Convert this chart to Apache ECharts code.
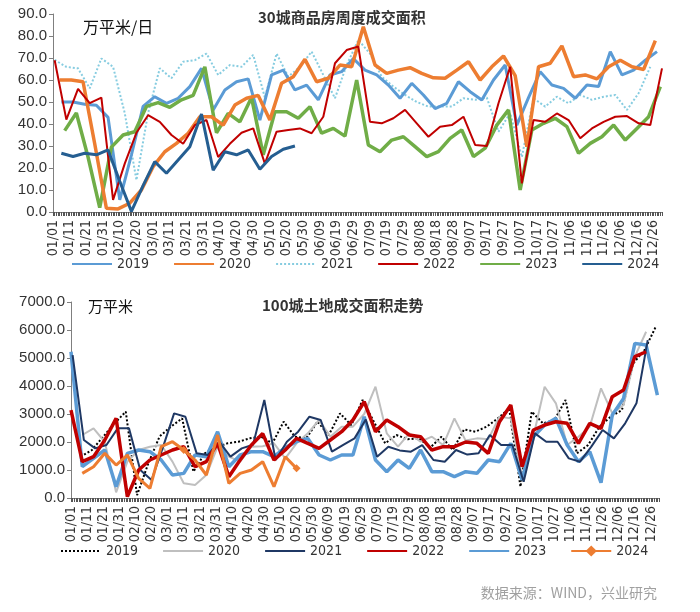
<!DOCTYPE html>
<html><head><meta charset="utf-8">
<script src="https://cdn.jsdelivr.net/npm/echarts@6/dist/echarts.min.js"></script>
<style>html,body{margin:0;padding:0;background:#fff}#c{width:700px;height:612px}</style>
</head><body><div id="c"></div>
<script>
// ---- x axis: days of a (leap) year ----
const monthLengths = [31,29,31,30,31,30,31,31,30,31,30,31];
const days = [];
monthLengths.forEach((n, m) => { for (let d = 1; d <= n; d++) days.push(String(m + 1).padStart(2, '0') + '/' + String(d).padStart(2, '0')); });
const years = ['2019', '2020', '2021', '2022', '2023', '2024'];

// ---- top: 30 cities weekly commercial housing sales (万平米/日) ----
// first day index of each year's weekly series
const saleStart = { '2019': 5, '2020': 4, '2021': 1, '2022': 1, '2023': 7, '2024': 5 };
const sale2019 = [50,50,49,48.5,43,5.5,26,48,52.4,49.4,51.7,57,65.3,46.4,55.5,59.2,60.5,41.8,62.3,64.5,55.5,57.7,51,62.3,63.8,69.8,64.5,62.3,57.7,51.7,58.5,53.2,47,49.4,59.2,54.7,50.9,60,66.8,39.5,52,63.8,57.7,56.2,51.7,57.7,57,72.9,62.3,64.5,69,72.9];
const sale2020 = [60,60,59.2,31,1.7,1.4,4,10,20.6,27.4,31.2,35.8,43.3,43.3,39.5,48.6,51.7,53,41.8,58.5,61.5,69.4,59.2,60.8,66.8,66,84.2,66.8,63,64.5,65.6,63,61,60.8,64.5,68.3,60,66,70.9,62,29.7,66,67.6,75.5,61.5,62.3,60.5,66,69,66,64.8,77.9];
const sale2021 = [69.1,66,65.3,56.2,69.8,66,45,14.5,45,65.3,60.8,68.3,69,72,62.3,66.8,66,71.4,52,72,61.5,66,72.9,62.3,51.7,66.8,78.2,72,61.5,57,53.2,50,47.9,47.9,47.9,51.7,51,52,36.5,45,25,51.7,47.9,52.4,49.4,53.2,51,52.4,53.2,46.4,54,66];
const sale2022 = [69,42,56,49.5,52,5.5,22,36,44,41,35,31,39.5,41.8,25,31,36,38,22,36.5,37.3,38,35.8,43.3,67.6,73.6,75.2,41,40.3,42.6,46.4,40.3,34.2,38.8,39.5,43.3,30.5,30,49.4,66,13,41.8,41,44.8,41.8,33.5,38,41,43.3,43.6,40.3,39.5,65.3];
const sale2023 = [37,45,25,2,29.5,35,36.5,48,49.7,47.6,51,53,66,36,44.8,41,52,26,45.6,45.6,42.6,47.9,35.8,38,34.5,60,30.5,27.4,32.7,34.2,29.7,25.2,27.4,33.5,37.3,25.2,29,39.5,46.4,10,37.3,40.3,42.6,38.8,26.7,31.2,34.2,39.5,32.7,38,43.3,57];
const sale2024 = [26.7,25.2,26.7,26,28.2,14,0.3,12,22.9,17.6,23.6,29.7,44.5,19,27.4,26,28.2,19.4,25.2,28.5,30];

// ---- bottom: 100 cities land transaction area (万平米) ----
const landStart = { '2019': 6, '2020': 7, '2021': 1, '2022': 0, '2023': 0, '2024': 7 };
const land2019 = [1476,1714,2190,2666,3082,100,1238,2200,2547,2844,940,1595,1800,1952,2011,2130,2190,1952,2725,2190,2130,2725,2250,3023,2600,3499,2725,1952,2249,2100,2130,1800,2190,1714,2450,2368,2547,2844,3201,405,3082,2666,2785,3499,1595,1892,2547,2904,3142,4808,5284,6117];
const land2020 = [2250,2487,2000,200,1300,1714,1833,1892,1300,524,464,821,1833,1476,1297,1833,1850,1952,1416,1952,2309,2785,2190,2547,2547,3000,3975,2309,1833,2309,2011,2190,1892,2844,2050,2130,2100,2904,2844,762,2190,3975,3380,1892,2190,2547,3915,3023,3320,5046,5938];
const land2021 = [5105,2071,1773,1892,2487,2487,1000,643,1800,3023,2904,1595,1535,2011,1476,1773,1900,3500,1357,2011,2368,2904,2785,1654,1900,2130,2800,1476,1833,1700,1654,1892,1357,1297,1714,1550,1600,2249,1892,1892,583,2309,2011,2011,1416,1297,1833,2428,2130,2666,3380,5641];
const land2022 = [3142,1297,1476,2071,2844,48,1000,1357,1535,1714,1833,1119,1297,1952,762,1357,1892,2300,1357,1714,2130,1952,1773,2071,2368,2785,3439,2368,2785,2547,2250,2190,1714,1833,1833,2000,1952,1595,2725,3320,1119,2428,2606,2725,2666,1952,2666,2487,3618,3856,5046,5224];
const land2023 = [5224,1119,1416,1714,405,1595,1714,1654,1357,821,880,1535,1476,2368,1119,1535,1654,1654,1476,1800,2011,2130,1535,1357,1535,1535,2904,1357,940,1357,1059,1714,940,940,762,940,881,1357,1297,1952,643,2190,2606,2844,1892,1297,1654,547,2963,3558,5522,5462,3677];
const land2024 = [880,1119,1595,1178,1535,702,345,1833,2011,1714,1357,821,2250,524,880,1000,1297,405,1476,1059];

const saleValues = { '2019': sale2019, '2020': sale2020, '2021': sale2021, '2022': sale2022, '2023': sale2023, '2024': sale2024 };
const landValues = { '2019': land2019, '2020': land2020, '2021': land2021, '2022': land2022, '2023': land2023, '2024': land2024 };

function weekly(start, values) { return values.map((v, k) => [days[start + 7 * k], v]); }

const narrow = "'Liberation Sans Narrow','Arial Narrow','DejaVu Sans Condensed',sans-serif";
const regular = "'Liberation Sans',Arial,sans-serif";
const cjk = "'Noto Sans CJK SC','Noto Sans',sans-serif";

const topStyle = {
  '2019': { color: '#5B9BD5', width: 3, type: 'solid' },
  '2020': { color: '#ED7D31', width: 3.5, type: 'solid' },
  '2021': { color: '#86CCE0', width: 2, type: 'dotted' },
  '2022': { color: '#C00000', width: 2, type: 'solid' },
  '2023': { color: '#70AD47', width: 3.5, type: 'solid' },
  '2024': { color: '#255E91', width: 3, type: 'solid' }
};
const botStyle = {
  '2019': { color: '#000000', width: 2, type: 'dotted' },
  '2020': { color: '#BFBFBF', width: 2, type: 'solid' },
  '2021': { color: '#1F3864', width: 2, type: 'solid' },
  '2022': { color: '#C00000', width: 3.5, type: 'solid' },
  '2023': { color: '#5B9BD5', width: 3.5, type: 'solid' },
  '2024': { color: '#ED7D31', width: 3, type: 'solid' }
};
const topOrder = ['2021', '2019', '2023', '2020', '2022', '2024'];
const botOrder = ['2019', '2020', '2023', '2021', '2022', '2024'];

const series = [];
topOrder.forEach(y => {
  const s = topStyle[y];
  series.push({ name: 'sale' + y, type: 'line', xAxisIndex: 0, yAxisIndex: 0, symbol: 'none', silent: true,
    data: weekly(saleStart[y], saleValues[y]), itemStyle: { color: s.color }, lineStyle: { color: s.color, width: s.width, type: s.type } });
});
botOrder.forEach(y => {
  const s = botStyle[y];
  const dia = y === '2024';
  series.push({ name: 'land' + y, type: 'line', xAxisIndex: 1, yAxisIndex: 1, symbol: dia ? 'diamond' : 'none', symbolSize: 8, showSymbol: dia, silent: true,
    data: weekly(landStart[y], landValues[y]), itemStyle: { color: s.color }, lineStyle: { color: s.color, width: s.width, type: s.type } });
});

function legendItems(prefix, withSymbol) {
  return years.map(y => (withSymbol && withSymbol === y) ? { name: prefix + y } : { name: prefix + y, itemStyle: { opacity: 0 } });
}

function xAxis(gi) {
  return { gridIndex: gi, type: 'category', data: days, boundaryGap: false,
    axisLine: { lineStyle: { color: '#7f7f7f', width: 1 } },
    axisTick: { interval: 0, length: 4, lineStyle: { color: '#555' } },
    axisLabel: { interval: 9, rotate: 90, fontSize: 14, color: '#333', fontFamily: narrow, margin: 8 },
    splitLine: { show: false } };
}
function yAxis(gi, max, interval) {
  return { gridIndex: gi, type: 'value', min: 0, max: max, interval: interval,
    axisLine: { show: true, lineStyle: { color: '#7f7f7f' } },
    axisTick: { show: true, length: 4, lineStyle: { color: '#7f7f7f' } },
    axisLabel: { formatter: v => v.toFixed(1), fontSize: 15, color: '#333', fontFamily: regular, margin: 6 },
    splitLine: { show: false } };
}

const chart = echarts.init(document.getElementById('c'), null, { renderer: 'canvas' });
chart.setOption({
  animation: false,
  backgroundColor: '#fff',
  title: [
    { text: '30城商品房周度成交面积', left: 258, top: 10, padding: 0, textStyle: { fontSize: 15, fontWeight: 'bold', color: '#333', fontFamily: cjk } },
    { text: '万平米/日', left: 83, top: 19, padding: 0, textStyle: { fontSize: 16, fontWeight: 'normal', color: '#111', fontFamily: cjk } },
    { text: '100城土地成交面积走势', left: 262, top: 298, padding: 0, textStyle: { fontSize: 15, fontWeight: 'bold', color: '#333', fontFamily: cjk } },
    { text: '万平米', left: 88, top: 299, padding: 0, textStyle: { fontSize: 15, fontWeight: 'normal', color: '#111', fontFamily: cjk } },
    { text: '数据来源：WIND，兴业研究', right: 43, top: 586, padding: 0, textStyle: { fontSize: 14, fontWeight: 'normal', color: '#a0a0a0', fontFamily: cjk } }
  ],
  legend: [
    { data: legendItems('sale', null), formatter: n => n.slice(-4), left: 71, top: 257, itemWidth: 40, itemHeight: 14, itemGap: 24, padding: 0,
      textStyle: { fontSize: 14, color: '#333', fontFamily: narrow } },
    { data: legendItems('land', '2024'), formatter: n => n.slice(-4), left: 60, top: 544, itemWidth: 40, itemHeight: 14, itemGap: 24, padding: 0,
      textStyle: { fontSize: 14, color: '#333', fontFamily: narrow } }
  ],
  grid: [
    { left: 53, top: 14, width: 609, height: 198 },
    { left: 71, top: 302, width: 588, height: 196 }
  ],
  xAxis: [xAxis(0), xAxis(1)],
  yAxis: [yAxis(0, 90, 10), yAxis(1, 7000, 1000)],
  series: series
});
</script>
</body></html>
